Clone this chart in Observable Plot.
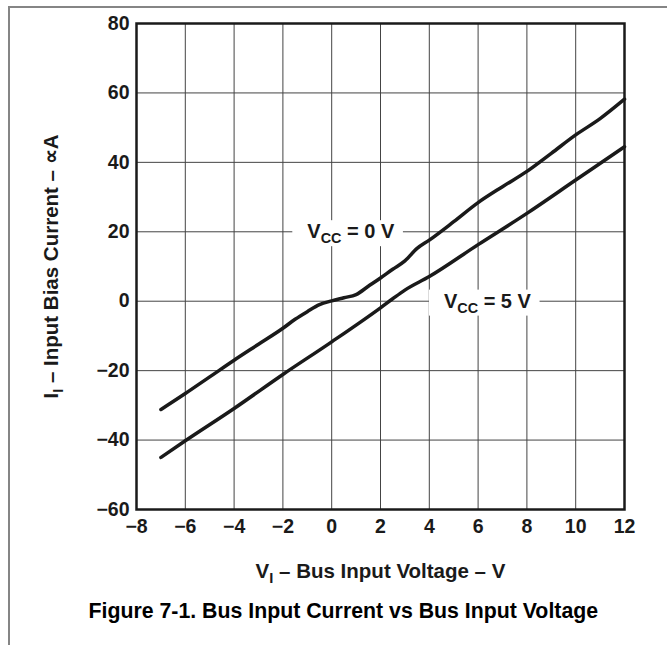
<!DOCTYPE html>
<html><head><meta charset="utf-8">
<script src="https://cdn.jsdelivr.net/npm/d3@7"></script>
<script src="https://cdn.jsdelivr.net/npm/@observablehq/plot@0.6"></script>
<style>
html,body{margin:0;padding:0;background:#fff;}
#wrap{position:relative;width:667px;height:645px;overflow:hidden;}
#wrap svg{position:absolute;left:0;top:0;}
#frame{position:absolute;left:8px;top:6px;width:700px;height:700px;border-top:2px solid #858585;border-left:2px solid #858585;pointer-events:none;}
</style></head><body><div id="wrap"><div id="frame"></div></div>
<script>
// Vcc = 0 V curve
const vcc0X = [-7, -6, -5, -4, -3, -2, -1.5, -1, -0.5, 0, 0.5, 1, 1.5, 2, 2.5, 3, 3.5, 4, 5, 6, 7, 8, 9, 10, 11, 12];
const vcc0Y = [-31.2, -26.6, -21.8, -17, -12.4, -7.8, -5.2, -3.0, -1.0, 0.1, 1.0, 1.9, 4.3, 6.7, 9.2, 11.6, 15.2, 17.6, 22.9, 28.4, 33.0, 37.4, 42.6, 47.9, 52.6, 58.2];
// Vcc = 5 V curve
const vcc5X = [-7, -6, -4, -2, 0, 2, 2.5, 3, 4, 6, 8, 10, 12];
const vcc5Y = [-45, -40.2, -30.9, -21.1, -11.7, -1.9, 0.7, 3.2, 7.1, 16.3, 25.3, 34.9, 44.5];

const xTicks = [-8, -6, -4, -2, 0, 2, 4, 6, 8, 10, 12];
const yTicks = [-60, -40, -20, 0, 20, 40, 60, 80];

const curveLabelX = [-1.0, 4.6];
const curveLabelY = [20, 0];
const curveLabelText = ["V_{CC} = 0 V", "V_{CC} = 5 V"];

const xLabel = "V_{I} – Bus Input Voltage – V";
const yLabel = "I_{I} – Input Bias Current – ∝A";
const caption = "Figure 7-1. Bus Input Current vs Bus Input Voltage";

const vcc0 = vcc0X.map((x, i) => ({x, y: vcc0Y[i]}));
const vcc5 = vcc5X.map((x, i) => ({x, y: vcc5Y[i]}));
const curveLabels = curveLabelX.map((x, i) => ({x, y: curveLabelY[i], text: curveLabelText[i]}));

const FONT = "'Liberation Sans', Arial, Helvetica, sans-serif";
const INK = "#1a1a1a";

const plot = Plot.plot({
  width: 667, height: 645,
  marginLeft: 136, marginRight: 43, marginTop: 23, marginBottom: 136,
  style: {background: "transparent", fontFamily: FONT, fontSize: "19px", fontWeight: "bold", color: INK},
  x: {domain: [-8, 12], label: null},
  y: {domain: [-60, 80], label: null},
  marks: [
    Plot.gridX(xTicks, {stroke: "#444", strokeOpacity: 1, strokeWidth: 1}),
    Plot.gridY(yTicks, {stroke: "#444", strokeOpacity: 1, strokeWidth: 1}),
    Plot.axisX(xTicks, {tickSize: 0, tickPadding: 10, fontSize: 19.5, fontWeight: "bold", fill: INK, label: null}),
    Plot.axisY(yTicks, {tickSize: 0, tickPadding: 7, fontSize: 19.5, fontWeight: "bold", fill: INK, label: null}),
    Plot.line(vcc0, {x: "x", y: "y", stroke: INK, strokeWidth: 3.5, curve: "monotone-x"}),
    Plot.line(vcc5, {x: "x", y: "y", stroke: INK, strokeWidth: 3.5, curve: "monotone-x"}),
    Plot.frame({stroke: INK, strokeWidth: 2.5}),
    Plot.text(curveLabels, {x: "x", y: "y", text: "text", textAnchor: "start", fontSize: 20, fontWeight: "bold", fill: INK}),
    Plot.text([xLabel], {text: d => d, frameAnchor: "bottom", textAnchor: "middle", dy: 68, fontSize: 20.5, fontWeight: "bold", fill: INK}),
    Plot.text([yLabel], {text: d => d, frameAnchor: "left", textAnchor: "middle", dx: -85, rotate: -90, fontSize: 20.5, fontWeight: "bold", fill: INK}),
    Plot.text([caption], {text: d => d, frameAnchor: "bottom-left", textAnchor: "start", dx: -48, dy: 108, fontSize: 21.3, fontWeight: "bold", fill: "#000"})
  ]
});

document.getElementById("wrap").prepend(plot);

// subscripts and label backgrounds
const NS = "http://www.w3.org/2000/svg";
plot.querySelectorAll("text").forEach(t => {
  const s = t.textContent;
  if (!s.includes("_{")) return;
  const parts = s.split(/(_\{[^}]*\})/).filter(p => p);
  t.textContent = "";
  let wasSub = false;
  for (const p of parts) {
    const ts = document.createElementNS(NS, "tspan");
    if (p.startsWith("_{")) {
      ts.textContent = p.slice(2, -1);
      ts.setAttribute("font-size", "0.72em");
      ts.setAttribute("dy", "5");
      wasSub = true;
    } else {
      ts.textContent = p;
      if (wasSub) ts.setAttribute("dy", "-5");
      wasSub = false;
    }
    t.appendChild(ts);
  }
  if (s.startsWith("V_{CC}")) {
    const b = t.getBBox();
    const r = document.createElementNS(NS, "rect");
    r.setAttribute("x", b.x - 15);
    r.setAttribute("y", b.y);
    r.setAttribute("width", b.width + 23);
    r.setAttribute("height", b.height);
    r.setAttribute("fill", "#fff");
    const tr = t.getAttribute("transform");
    if (tr) r.setAttribute("transform", tr);
    t.parentNode.insertBefore(r, t);
  }
});
</script></body></html>
